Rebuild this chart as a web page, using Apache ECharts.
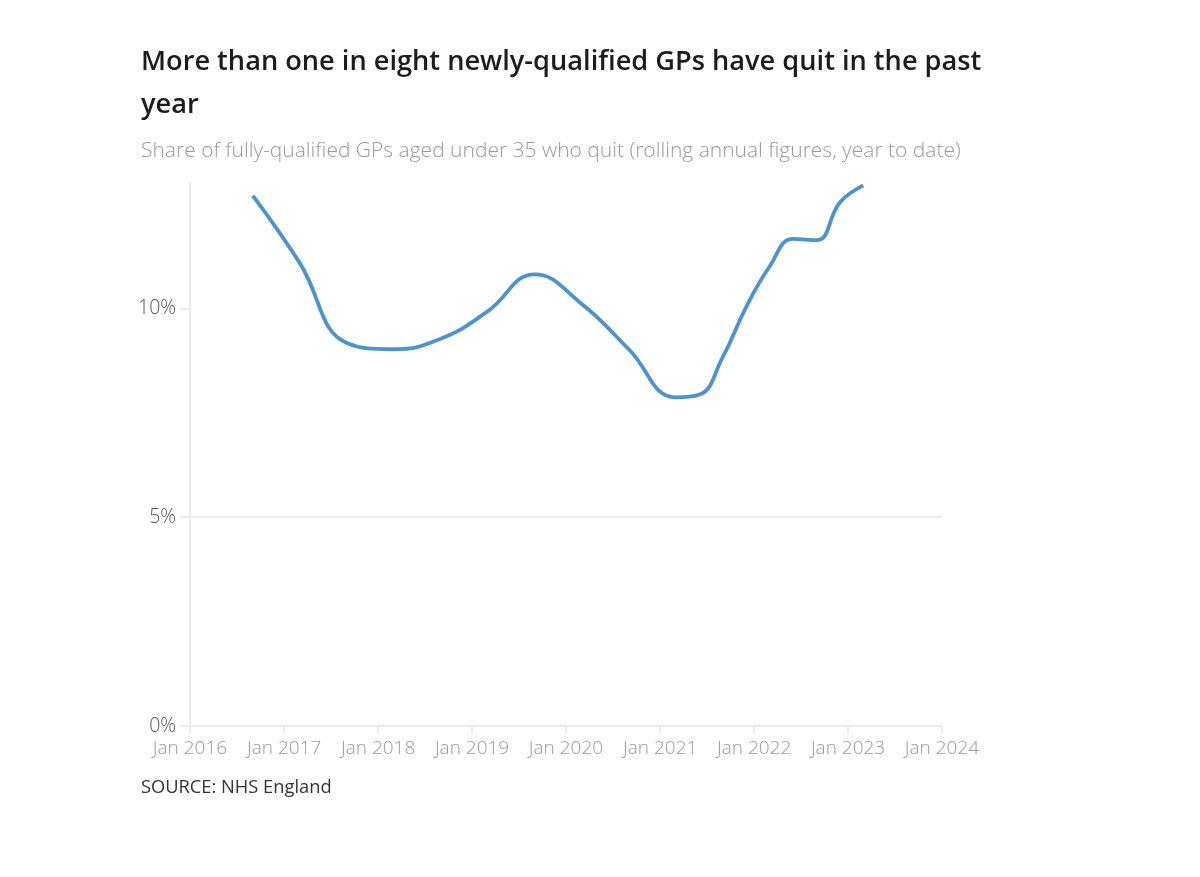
<!DOCTYPE html>
<html>
<head>
<meta charset="utf-8">
<script src="https://cdn.jsdelivr.net/npm/echarts@6/dist/echarts.min.js"></script>
<style>
html,body{margin:0;padding:0;background:#fff;}
#chart{width:1200px;height:877px;}
</style>
</head>
<body>
<div id="chart"></div>
<script>
// Rolling annual figures, by month of reading
const dates = [
  '2016-09','2017-03','2017-09','2018-03','2018-09','2019-03',
  '2019-09','2020-03','2020-09','2021-03','2021-06','2021-09',
  '2021-12','2022-03','2022-06','2022-09','2022-12','2023-03'
];
const quitShare = [
  12.70, 11.10, 9.17, 9.02, 9.27, 9.92,
  10.81, 10.11, 9.02, 7.87, 7.93, 8.83,
  10.03, 10.99, 11.66, 11.63, 12.54, 12.94
];
const yTicks = [0, 5, 10];
const xStartYear = 2016;
const xEndYear = 2024;

const titleText = 'More than one in eight newly-qualified GPs have quit in the past\nyear';
const subtitleText = 'Share of fully-qualified GPs aged under 35 who quit (rolling annual figures, year to date)';
const sourceText = 'SOURCE: NHS England';

const FONT = '"Open Sans", Lato, sans-serif';
const grey = '#ebebeb';
const YEAR_MS = 365 * 24 * 3600 * 1000;

const chart = echarts.init(document.getElementById('chart'), null, {renderer: 'canvas'});

chart.setOption({
  animation: false,
  backgroundColor: '#ffffff',
  title: [
    {
      text: titleText,
      left: 141, top: 41, padding: 0,
      textStyle: {fontFamily: FONT, fontSize: 27.2, fontWeight: 600, color: '#1c1c1c', lineHeight: 43}
    },
    {
      text: subtitleText,
      left: 141, top: 141, padding: 0,
      textStyle: {fontFamily: FONT, fontSize: 21, fontWeight: 300, color: '#9a9a9a'}
    },
    {
      text: sourceText,
      left: 141, top: 779, padding: 0,
      textStyle: {fontFamily: FONT, fontSize: 18.3, fontWeight: 'normal', color: '#333333'}
    }
  ],
  grid: {left: 190, right: 258, top: 183, bottom: 151, containLabel: false},
  xAxis: {
    type: 'time',
    min: Date.UTC(xStartYear, 0, 1),
    max: Date.UTC(xEndYear, 0, 1),
    minInterval: YEAR_MS,
    splitNumber: 8,
    axisLine: {show: true, lineStyle: {color: grey, width: 2}},
    axisTick: {show: true, length: 7, lineStyle: {color: grey, width: 2}},
    axisLabel: {
      formatter: v => 'Jan ' + new Date(v).getFullYear(),
      fontFamily: FONT, fontSize: 19, fontWeight: 300, color: '#999999', margin: 13,
      showMinLabel: true, showMaxLabel: true, hideOverlap: false
    },
    splitLine: {show: false}
  },
  yAxis: {
    type: 'value',
    min: 0, max: 13,
    interval: 5,
    axisLine: {show: true, lineStyle: {color: grey, width: 2}},
    axisTick: {show: true, length: 10, lineStyle: {color: grey, width: 2}, customValues: yTicks},
    axisLabel: {
      customValues: yTicks,
      formatter: v => v + '%',
      fontFamily: FONT, fontSize: 19.5, fontWeight: 300, color: '#555555', margin: 14
    },
    splitLine: {show: true, showMaxLine: false, lineStyle: {color: grey, width: 2}}
  },
  series: [{
    type: 'line',
    data: dates.map((d, i) => [d + '-01', quitShare[i]]),
    showSymbol: false,
    smooth: 0.45,
    lineStyle: {color: '#4f93cc', width: 3.8},
    itemStyle: {color: '#4f93cc'}
  }]
});
</script>
</body>
</html>
